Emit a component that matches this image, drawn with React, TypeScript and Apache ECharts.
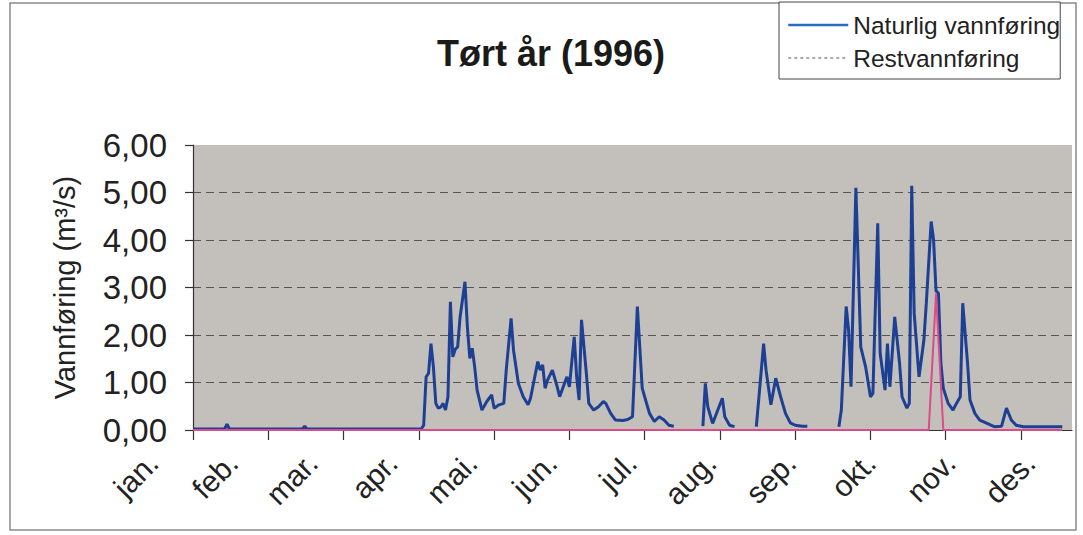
import React, { useEffect, useRef } from "react";
import * as echarts from "echarts";

const monthLabels = ["jan.", "feb.", "mar.", "apr.", "mai.", "jun.", "jul.", "aug.", "sep.", "okt.", "nov.", "des."];
const monthTickDays = [0, 31, 62, 93, 124, 155, 186, 217, 248, 279, 310, 341];

// Naturlig vannføring: day of year, flow (m3/s); "-" marks missing data (gaps)
const naturalDays = [
  0, 13, 14, 15, 45, 46, 47, 94, 95, 96, 97, 98, 99, 100, 101, 102, 103, 104, 105, 106, 107, 108, 109, 110, 112,
  113, 114, 115, 116, 117, 119, 121, 123, 124, 126, 128, 129, 131, 132, 134, 136, 138, 139, 142, 143, 144, 145,
  146, 148, 150, 151, 154, 155, 157, 158, 159, 160, 162, 163, 165, 167, 169, 170, 172, 174, 177, 179, 181, 183,
  185, 186, 188, 190, 192, 194, 196, 198, 204,
  210, 211, 212, 214, 218, 219, 221, 223, 227,
  232, 235, 236, 238, 239, 240, 242, 244, 246, 248, 251, 253, 259,
  266, 267, 269, 270, 271, 273, 275, 277, 279, 280, 282, 283, 285, 286, 287, 289, 291, 292, 294, 295, 296, 297,
  299, 301, 302, 304, 305, 306, 307, 308, 309, 311, 313, 314, 316, 317, 319, 320, 322, 324, 327, 330, 333, 335,
  337, 339, 342, 358,
];
const naturalFlow: (number | string)[] = [
  0.02, 0.02, 0.12, 0.02, 0.02, 0.08, 0.02, 0.02, 0.1, 1.12, 1.19, 1.82, 1.33, 0.56, 0.46, 0.48, 0.56, 0.42, 0.7,
  2.7, 1.54, 1.7, 1.75, 2.38, 3.12,
  2.17, 1.51, 1.72, 1.33, 0.84, 0.42, 0.6, 0.74, 0.46, 0.53, 0.56, 1.26, 2.35, 1.68, 0.98, 0.7, 0.53, 0.67, 1.44,
  1.26, 1.37, 0.88,
  1.05, 1.26, 0.91, 0.7, 1.12, 0.91, 1.96, 1.12, 0.63, 2.32, 1.19, 0.56, 0.42, 0.49, 0.6, 0.56, 0.35, 0.21, 0.2,
  0.22, 0.28, 2.6,
  0.88, 0.7, 0.35, 0.18, 0.28, 0.21, 0.1, 0.08, "-",
  0.08, 0.98, 0.49, 0.14, 0.67, 0.28, 0.1, 0.07, "-",
  0.07, 1.82, 1.26, 0.53, 0.81, 1.09, 0.7, 0.35, 0.15, 0.1, 0.08, 0.08, "-",
  0.07, 0.42, 2.6, 2.1, 0.91, 5.1, 1.75, 1.33, 0.7, 0.77, 4.35, 1.61, 0.84, 1.82, 0.91, 2.38, 1.4, 0.7, 0.46, 0.56,
  5.14, 2.46,
  1.12, 1.89, 2.67, 4.39, 4.0, 2.93, 2.88, 1.4, 0.88, 0.56, 0.42, 0.52, 0.7, 2.67, 1.4, 0.63, 0.35, 0.21, 0.14,
  0.07, 0.08, 0.46,
  0.21, 0.1, 0.07, 0.07,
];

// Restvannføring
const restDays = [0, 303, 306, 309, 358];
const restFlow = [0, 0, 2.87, 0, 0];

const FONT = "'Liberation Sans', Arial, Helvetica, sans-serif";

export default function App() {
  const ref = useRef<HTMLDivElement>(null);

  useEffect(() => {
    if (!ref.current) return;
    const chart = echarts.init(ref.current, null, { renderer: "svg" });
    const natural = naturalDays.map((d, i) => [d, naturalFlow[i]]);
    const rest = restDays.map((d, i) => [d, restFlow[i]]);

    chart.setOption({
      animation: false,
      backgroundColor: "#ffffff",
      textStyle: { fontFamily: FONT },
      title: {
        text: "Tørt år (1996)",
        left: 437,
        top: 35,
        padding: 0,
        textStyle: { fontFamily: FONT, fontSize: 36, fontWeight: "bold", color: "#1a1a1a" },
      },
      legend: {
        orient: "vertical",
        left: 779,
        top: 2,
        padding: [10, 0, 8, 8],
        itemGap: 7,
        itemWidth: 60,
        itemHeight: 14,
        itemTextGap: 6,
        borderColor: "#444",
        borderWidth: 1,
        backgroundColor: "#ffffff",
        textStyle: { fontFamily: FONT, fontSize: 24.5, lineHeight: 26, color: "#222" },
        data: [
          {
            name: "Naturlig vannføring",
            itemStyle: { opacity: 0 },
            lineStyle: { color: "#2a6cc4", width: 2.5, type: "solid" },
          },
          {
            name: "Restvannføring",
            itemStyle: { opacity: 0 },
            lineStyle: { color: "#9a8a92", width: 1.5, type: [3, 3] },
          },
        ],
      },
      graphic: [
        {
          type: "rect",
          silent: true,
          z: -10,
          shape: { x: 10, y: 3, width: 1066, height: 527 },
          style: { fill: "none", stroke: "#8a8a8a", lineWidth: 1.5 },
        },
      ],
      grid: [
        {
          left: 193,
          right: 11,
          top: 145,
          bottom: 105,
          show: true,
          backgroundColor: "#c3c0bc",
          borderWidth: 0,
        },
        { left: 153, width: 877, top: 145, bottom: 105, show: false },
      ],
      xAxis: [
        {
          type: "value",
          gridIndex: 0,
          min: 0,
          max: 362,
          axisLine: { show: true, onZero: false, lineStyle: { color: "#333", width: 1.2 } },
          axisTick: { show: true, length: 10, customValues: monthTickDays, lineStyle: { color: "#333", width: 1.2 } },
          axisLabel: { show: false },
          splitLine: { show: false },
        },
        {
          type: "value",
          gridIndex: 1,
          min: 0,
          max: 11,
          interval: 1,
          axisLine: { show: false },
          axisTick: { show: false },
          splitLine: { show: false },
          axisLabel: {
            show: true,
            rotate: 45,
            margin: 28,
            fontFamily: FONT,
            fontSize: 30,
            color: "#222",
            formatter: (v: number) => monthLabels[Math.round(v)] ?? "",
          },
        },
      ],
      yAxis: [
        {
          type: "value",
          gridIndex: 0,
          min: 0,
          max: 6,
          interval: 1,
          name: "Vannføring (m³/s)",
          nameLocation: "middle",
          nameGap: 114,
          nameRotate: 90,
          nameTextStyle: { fontFamily: FONT, fontSize: 29, color: "#222" },
          axisLine: { show: true, lineStyle: { color: "#333", width: 1.2 } },
          axisTick: { show: true, length: 8, lineStyle: { color: "#333", width: 1.2 } },
          axisLabel: {
            margin: 26,
            fontFamily: FONT,
            fontSize: 33,
            color: "#222",
            formatter: (v: number) => v.toFixed(2).replace(".", ","),
          },
          splitLine: {
            show: true,
            showMinLine: false,
            showMaxLine: false,
            lineStyle: { color: "#555", width: 1, type: [8, 5] },
          },
        },
        { type: "value", gridIndex: 1, show: false, min: 0, max: 6 },
      ],
      series: [
        {
          name: "Naturlig vannføring",
          type: "line",
          xAxisIndex: 0,
          yAxisIndex: 0,
          data: natural,
          symbol: "none",
          connectNulls: false,
          lineStyle: { color: "#1d3f94", width: 3 },
          itemStyle: { color: "#1d3f94" },
          z: 3,
        },
        {
          name: "Restvannføring",
          type: "line",
          xAxisIndex: 0,
          yAxisIndex: 0,
          data: rest,
          symbol: "none",
          lineStyle: { color: "#dd4a88", width: 2 },
          itemStyle: { color: "#dd4a88" },
          z: 4,
        },
      ],
    });

    return () => chart.dispose();
  }, []);

  return (
    <div
      ref={ref}
      style={{ position: "fixed", left: 0, top: 0, width: 1083, height: 535 }}
    />
  );
}
